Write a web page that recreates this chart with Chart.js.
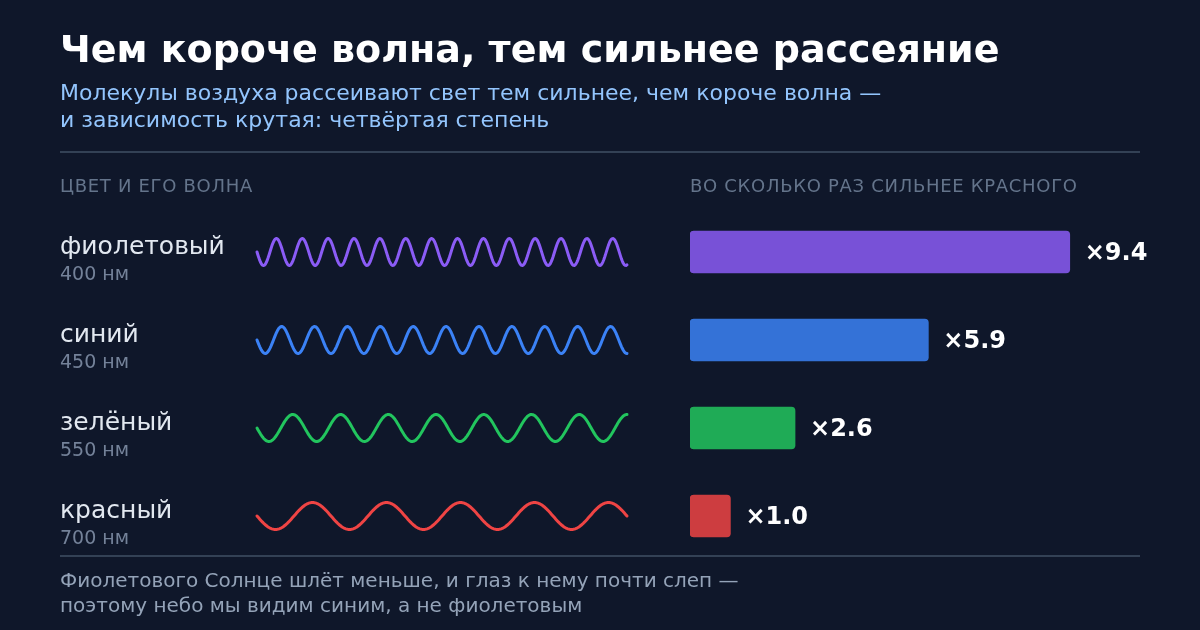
<!DOCTYPE html>
<html><head><meta charset="utf-8">
<script src="https://cdn.jsdelivr.net/npm/chart.js@4.4.1/dist/chart.umd.min.js"></script>
<style>
html,body{margin:0;padding:0;background:#0f172a;}
#wrap{position:relative;width:1200px;height:630px;overflow:hidden;font-family:"DejaVu Sans",sans-serif;background:#0f172a;}
canvas{position:absolute;left:0;top:0;}
.t{position:absolute;white-space:nowrap;line-height:1;}
.rule{position:absolute;left:60px;width:1080px;height:2px;background:#334155;}
.hd{font-size:18px;letter-spacing:0.7px;color:#64748b;}
</style></head><body>
<div id="wrap">
<canvas id="c" width="1200" height="630"></canvas>
<div class="t" style="left:60px;top:30px;font-size:38px;font-weight:bold;color:#ffffff;">Чем короче волна, тем сильнее рассеяние</div>
<div class="t" style="left:60px;top:82px;font-size:22px;color:#93c5fd;">Молекулы воздуха рассеивают свет тем сильнее, чем короче волна —</div>
<div class="t" style="left:60px;top:109px;font-size:22px;color:#93c5fd;">и зависимость крутая: четвёртая степень</div>
<div class="rule" style="top:151px;"></div>
<div class="t hd" style="left:60px;top:177px;">ЦВЕТ И ЕГО ВОЛНА</div>
<div class="t hd" style="left:690px;top:177px;">ВО СКОЛЬКО РАЗ СИЛЬНЕЕ КРАСНОГО</div>
<div class="rule" style="top:555px;"></div>
<div class="t" style="left:60px;top:570px;font-size:20px;color:#94a3b8;">Фиолетового Солнце шлёт меньше, и глаз к нему почти слеп —</div>
<div class="t" style="left:60px;top:595px;font-size:20px;color:#94a3b8;">поэтому небо мы видим синим, а не фиолетовым</div>
</div>
<script>
const colorNames = ['фиолетовый', 'синий', 'зелёный', 'красный'];
const wavelengthsNm = [400, 450, 550, 700];
const ratioToRed = [9.4, 5.9, 2.6, 1.0];
const waveCycles = [14.3, 11.25, 7.75, 5.0];
const waveColors = ['#8b5cf6', '#3b82f6', '#22c55e', '#ef4444'];
const barColors = ['rgba(139,92,246,0.85)', 'rgba(59,130,246,0.85)', 'rgba(34,197,94,0.85)', 'rgba(239,68,68,0.85)'];

const wrap = document.getElementById('wrap');
let labelsMade = false;

const rowPlugin = {
  id: 'rows',
  afterDatasetsDraw(chart) {
    const ctx = chart.ctx;
    const ys = chart.scales.y;
    const xs = chart.scales.x;
    const x0 = 257, x1 = 627, amp = 13.5;
    colorNames.forEach((name, i) => {
      const c = ys.getPixelForValue(i);
      ctx.save();
      ctx.beginPath();
      const n = 400;
      for (let k = 0; k <= n; k++) {
        const t = k / n;
        const x = x0 + (x1 - x0) * t;
        const y = c + amp * Math.sin(2 * Math.PI * waveCycles[i] * t);
        if (k === 0) ctx.moveTo(x, y); else ctx.lineTo(x, y);
      }
      ctx.strokeStyle = waveColors[i];
      ctx.lineWidth = 3;
      ctx.lineCap = 'round';
      ctx.lineJoin = 'round';
      ctx.stroke();
      ctx.restore();
    });
    if (!labelsMade) {
      labelsMade = true;
      colorNames.forEach((name, i) => {
        const c = ys.getPixelForValue(i);
        const a = document.createElement('div');
        a.className = 't';
        a.style.cssText = `left:60px;top:${c - 18.8}px;font-size:25px;color:#e2e8f0;`;
        a.textContent = name;
        wrap.appendChild(a);
        const b = document.createElement('div');
        b.className = 't';
        b.style.cssText = `left:60px;top:${c + 11.9}px;font-size:19px;color:#748299;`;
        b.textContent = wavelengthsNm[i] + ' нм';
        wrap.appendChild(b);
        const v = document.createElement('div');
        v.className = 't';
        v.style.cssText = `left:${xs.getPixelForValue(ratioToRed[i]) + 15}px;top:${c - 12.5}px;font-size:24px;font-weight:bold;color:#ffffff;`;
        v.textContent = '×' + ratioToRed[i].toFixed(1);
        wrap.appendChild(v);
      });
    }
  }
};

new Chart(document.getElementById('c'), {
  type: 'bar',
  data: {
    labels: colorNames,
    datasets: [{
      data: ratioToRed,
      backgroundColor: barColors,
      borderRadius: 4,
      borderSkipped: false,
      barThickness: 42
    }]
  },
  options: {
    indexAxis: 'y',
    responsive: false,
    animation: false,
    layout: { padding: { left: 690, right: 106, top: 208, bottom: 70 } },
    scales: {
      x: { min: 0, max: 10, display: false },
      y: { display: false }
    },
    plugins: { legend: { display: false }, tooltip: { enabled: false } }
  },
  plugins: [rowPlugin]
});
</script>
</body></html>
